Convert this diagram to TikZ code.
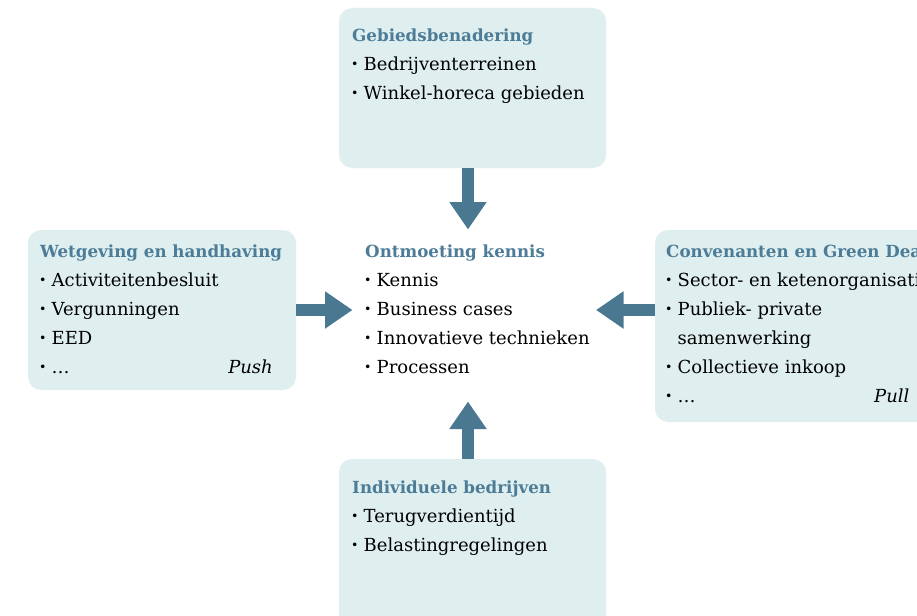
\documentclass[tikz,border=0pt]{standalone}
\usepackage{fontspec}
\setmainfont{DejaVu Serif}
\usetikzlibrary{arrows.meta}
\definecolor{boxfill}{HTML}{DFEFEF}
\definecolor{arrowcol}{HTML}{4A7891}
\definecolor{titlecol}{HTML}{4C7C97}
\tikzset{
  panel/.style={draw=none, fill=boxfill, rounded corners=13pt, inner sep=0pt},
  blocktext/.style={anchor=north west, inner sep=0pt, align=left,
    font=\fontsize{18}{29}\selectfont},
  tag/.style={inner sep=0pt, font=\fontsize{18}{29}\selectfont\itshape},
  bigarrow/.style={draw=arrowcol, line width=12.5pt,
    -{Triangle[width=35.5pt,length=27.5pt]}}
}
\newcommand{\ttl}[1]{{\fontsize{16.7}{29}\selectfont\color{titlecol}\bfseries #1}}
\newcommand{\itm}{\makebox[11.5pt][l]{\hspace{-1pt}\raisebox{1.6pt}{\fontsize{12.5}{12.5}\selectfont\textbullet}}}
\begin{document}
\begin{tikzpicture}[x=1pt,y=-1pt]
\useasboundingbox (0,0) rectangle (917,615);
\clip (0,0) rectangle (917,615);
\fill[white] (0,0) rectangle (917,615);
% panels
\node[panel, minimum width=267pt, minimum height=160pt] (top) at (472.5,88) {};
\node[panel, minimum width=268pt, minimum height=160pt] (left) at (162,310) {};
\node[panel, minimum width=290pt, minimum height=192pt] (right) at (800,326) {};
\node[panel, minimum width=267pt, minimum height=180pt] (bottom) at (472.5,549) {};
% texts
\node[blocktext] (toptext) at (352,28.5) {\ttl{Gebiedsbenadering}\\ \itm Bedrijventerreinen\\ \itm Winkel-horeca gebieden};
\node[blocktext] (lefttext) at (40,244.5) {\ttl{Wetgeving en handhaving}\\ \itm Activiteitenbesluit\\ \itm Vergunningen\\ \itm EED\\ \itm \dots};
\node[tag, anchor=base east] (push) at (273,373) {Push};
\node[blocktext] (centertext) at (365,244.5) {\ttl{Ontmoeting kennis}\\ \itm Kennis\\ \itm Business cases\\ \itm Innovatieve technieken\\ \itm Processen};
\node[blocktext] (righttext) at (666,244.5) {\ttl{Convenanten en Green Deals}\\ \itm Sector- en ketenorganisaties\\ \itm Publiek- private\\ \phantom{\itm}samenwerking\\ \itm Collectieve inkoop\\ \itm \dots};
\node[tag, anchor=base west] (pull) at (874,402) {Pull};
\node[blocktext] (bottomtext) at (352,480.5) {\ttl{Individuele bedrijven}\\ \itm Terugverdientijd\\ \itm Belastingregelingen};
% arrows
\coordinate (ctop) at (468,229.5);
\coordinate (cleft) at (352.5,310);
\coordinate (cright) at (596,310);
\coordinate (cbot) at (468,401.5);
\draw[bigarrow] (top.south -| ctop) -- (ctop);
\draw[bigarrow] (left.east) -- (cleft);
\draw[bigarrow] (right.west |- cright) -- (cright);
\draw[bigarrow] (bottom.north -| cbot) -- (cbot);
\end{tikzpicture}
\end{document}
